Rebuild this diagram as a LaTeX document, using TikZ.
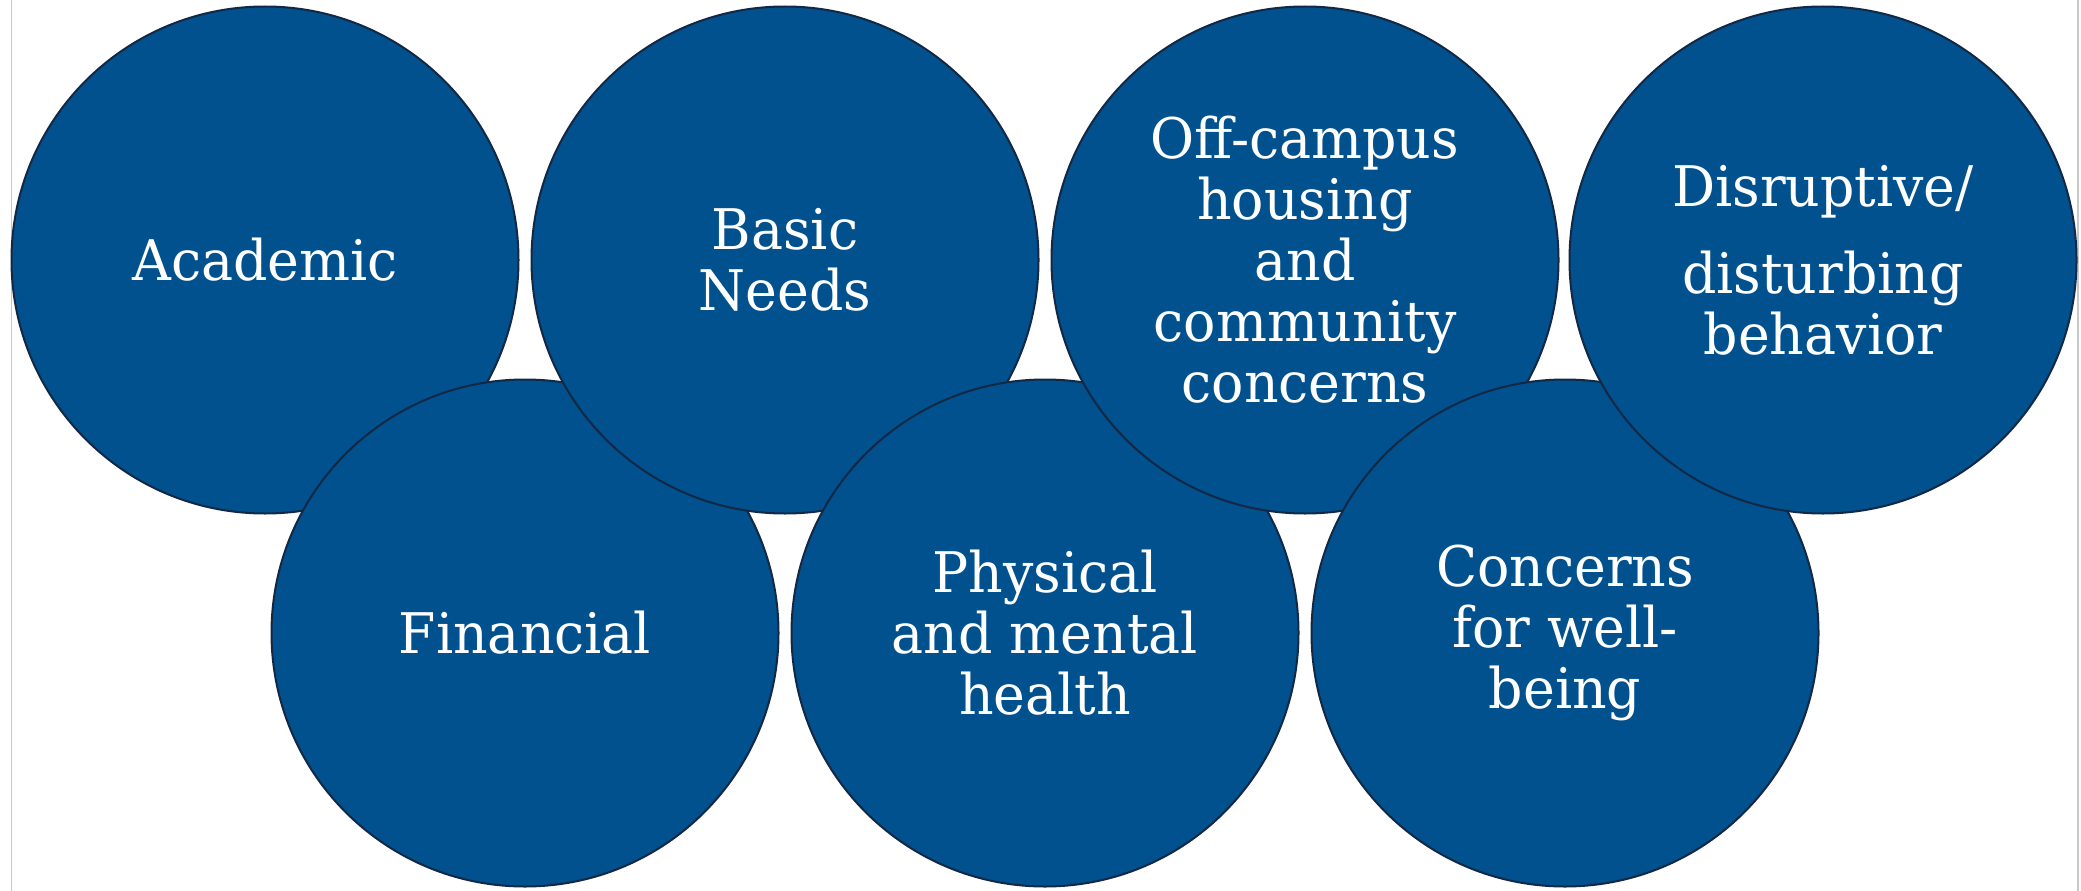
\documentclass[tikz,border=0pt]{standalone}
\usepackage{fontspec}
\setmainfont[FakeStretch=0.96]{DejaVu Serif}
\definecolor{bubblefill}{RGB}{0,81,142}
\definecolor{bubbleedge}{RGB}{18,40,68}
\definecolor{frameline}{RGB}{200,200,200}
\tikzset{
  bubble/.style={circle, fill=bubblefill, draw=bubbleedge, line width=2pt,
    minimum size=507pt, inner sep=0pt, text=white, align=center,
    font=\fontsize{56}{61}\selectfont},
  frame/.style={draw=frameline, line width=1.5pt}
}
\begin{document}
\begin{tikzpicture}[x=1pt,y=-1pt]
\useasboundingbox (0,0) rectangle (2081,891);
\fill[white] (0,0) rectangle (2081,891);
\coordinate (lt) at (11.5,0);
\coordinate (lb) at (11.5,891);
\coordinate (rt) at (2078,0);
\coordinate (rb) at (2078,891);
\draw[frame] (lt) -- (lb);
\draw[frame] (rt) -- (rb);
\node[bubble] (acad) at (265,260) {Academic};
\node[bubble] (fin) at (525,633) {Financial};
\node[bubble] (basic) at (785,260) {Basic\\Needs};
\node[bubble] (phys) at (1045,633) {Physical\\and mental\\health};
\node[bubble] (off) at (1305,260) {Off-campus\\housing\\and\\community\\concerns};
\node[bubble] (well) at (1565,633) {Concerns\\for well-\\being};
\node[bubble] (disr) at (1823,260) {Disruptive/\\[26pt]disturbing\\behavior};
\end{tikzpicture}
\end{document}
